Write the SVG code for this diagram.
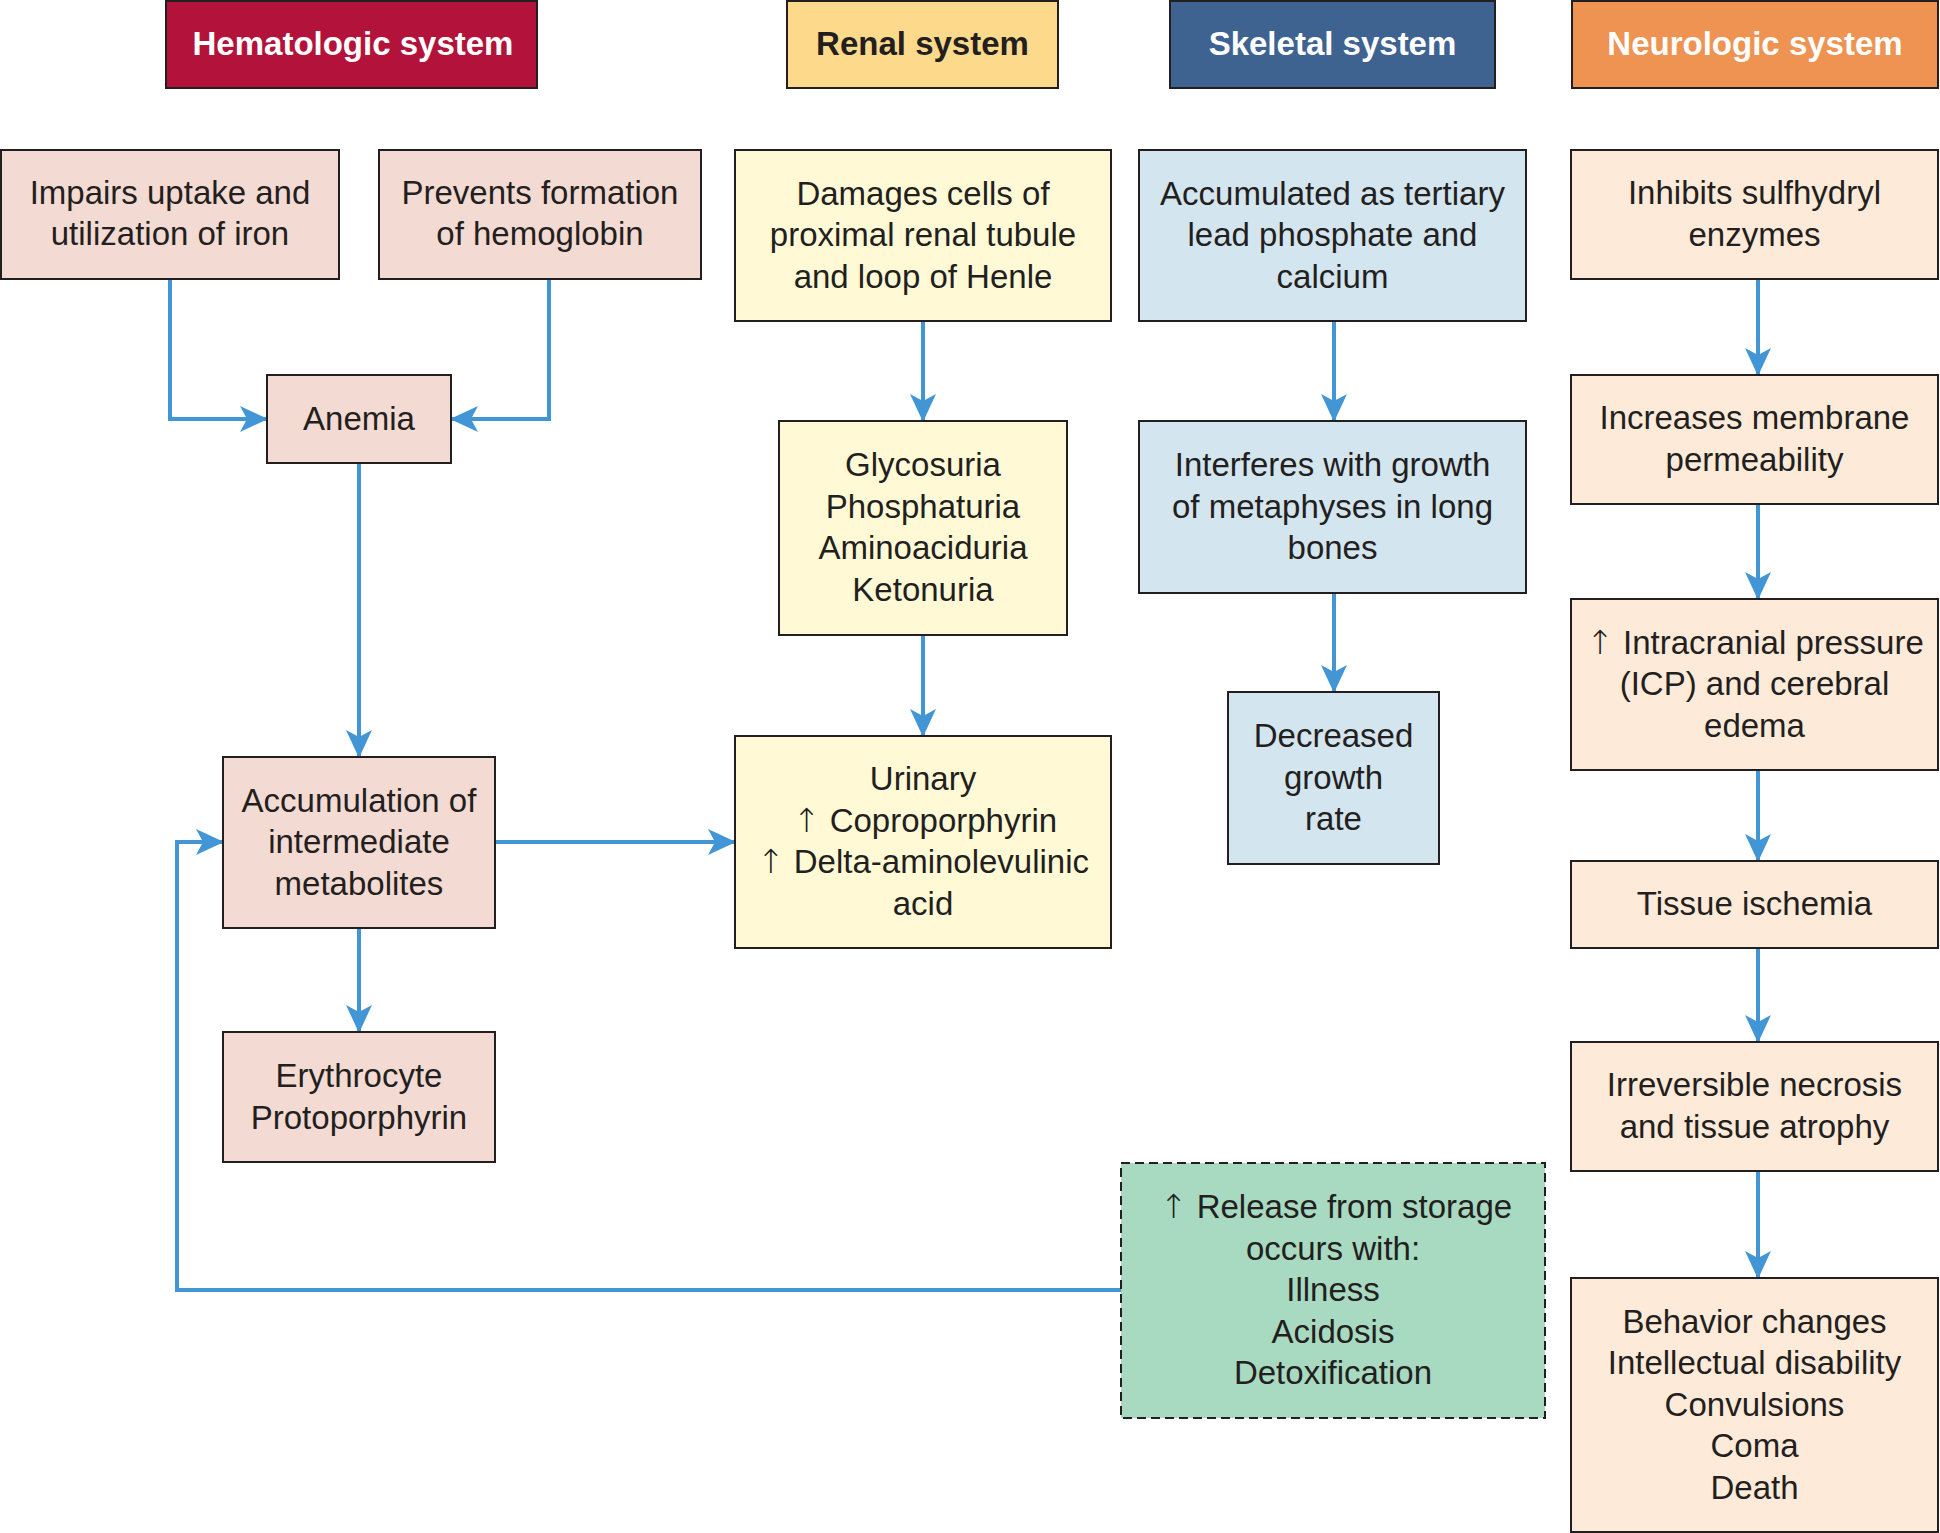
<svg xmlns="http://www.w3.org/2000/svg" width="1940" height="1533" viewBox="0 0 1940 1533">
<defs>
<style>
.hdr{stroke:#231F20;stroke-width:2}
.ht{font-family:"Liberation Sans",Arial,sans-serif;font-size:33px;font-weight:bold;text-anchor:middle}
.box{stroke:#231F20;stroke-width:2}
.hem{fill:#F3DAD2}
.ren{fill:#FFF9D6}
.skl{fill:#D3E5EE}
.neu{fill:#FDEAD8}
.grn{fill:#A8D9C1;stroke:#231F20;stroke-width:2;stroke-dasharray:9 5}
.t{font-family:"Liberation Sans",Arial,sans-serif;font-size:33px;fill:#231F20;text-anchor:middle}
.up{font-family:"DejaVu Sans",sans-serif;font-weight:200}
.c{fill:none;stroke:#4396D5;stroke-width:4;marker-end:url(#ah)}
</style>
<marker id="ah" markerUnits="userSpaceOnUse" viewBox="0 0 28 26" markerWidth="28" markerHeight="26" refX="27" refY="13" orient="auto">
<path d="M28,13 L0,0 L7,13 L0,26 Z" fill="#4396D5"/>
</marker>
</defs>
<rect width="1940" height="1533" fill="#FFFFFF"/>

<g id="connectors">
<path class="c" d="M170,279 V419 H267"/>
<path class="c" d="M549,279 V419 H451"/>
<path class="c" d="M359,463 V757"/>
<path class="c" d="M359,928 V1032"/>
<path class="c" d="M495,842 H735"/>
<path class="c" d="M923,321 V421"/>
<path class="c" d="M923,635 V736"/>
<path class="c" d="M1334,321 V421"/>
<path class="c" d="M1334,593 V692"/>
<path class="c" d="M1121,1290 H177 V842 H223"/>
<path class="c" d="M1758,279 V375"/>
<path class="c" d="M1758,504 V599"/>
<path class="c" d="M1758,770 V861"/>
<path class="c" d="M1758,948 V1042"/>
<path class="c" d="M1758,1171 V1278"/>
</g>

<g id="hdr-hematologic">
<rect class="hdr" x="166" y="1" width="371" height="87" fill="#B3123A"/>
<text class="ht" x="353" y="55" fill="#FFFFFF">Hematologic system</text>
</g>
<g id="hdr-renal">
<rect class="hdr" x="787" y="1" width="271" height="87" fill="#FDD98B"/>
<text class="ht" x="922.5" y="55" fill="#231F20">Renal system</text>
</g>
<g id="hdr-skeletal">
<rect class="hdr" x="1170" y="1" width="325" height="87" fill="#3E6391"/>
<text class="ht" x="1332.5" y="55" fill="#FFFFFF">Skeletal system</text>
</g>
<g id="hdr-neurologic">
<rect class="hdr" x="1572" y="1" width="366" height="87" fill="#EE9352"/>
<text class="ht" x="1755" y="55" fill="#FFFFFF">Neurologic system</text>
</g>

<g id="n-impairs">
<rect class="box hem" x="1" y="150" width="338" height="129"/>
<text class="t" x="170" y="204">Impairs uptake and</text>
<text class="t" x="170" y="245">utilization of iron</text>
</g>
<g id="n-prevents">
<rect class="box hem" x="379" y="150" width="322" height="129"/>
<text class="t" x="540" y="204">Prevents formation</text>
<text class="t" x="540" y="245">of hemoglobin</text>
</g>
<g id="n-anemia">
<rect class="box hem" x="267" y="375" width="184" height="88"/>
<text class="t" x="359" y="429.5">Anemia</text>
</g>
<g id="n-accumulation">
<rect class="box hem" x="223" y="757" width="272" height="171"/>
<text class="t" x="359" y="811.5">Accumulation of</text>
<text class="t" x="359" y="853">intermediate</text>
<text class="t" x="359" y="894.5">metabolites</text>
</g>
<g id="n-erythrocyte">
<rect class="box hem" x="223" y="1032" width="272" height="130"/>
<text class="t" x="359" y="1087">Erythrocyte</text>
<text class="t" x="359" y="1128.5">Protoporphyrin</text>
</g>

<g id="n-damages">
<rect class="box ren" x="735" y="150" width="376" height="171"/>
<text class="t" x="923" y="204.5">Damages cells of</text>
<text class="t" x="923" y="246">proximal renal tubule</text>
<text class="t" x="923" y="287.5">and loop of Henle</text>
</g>
<g id="n-glycosuria">
<rect class="box ren" x="779" y="421" width="288" height="214"/>
<text class="t" x="923" y="476">Glycosuria</text>
<text class="t" x="923" y="517.5">Phosphaturia</text>
<text class="t" x="923" y="559">Aminoaciduria</text>
<text class="t" x="923" y="600.5">Ketonuria</text>
</g>
<g id="n-urinary">
<rect class="box ren" x="735" y="736" width="376" height="212"/>
<text class="t" x="923" y="790">Urinary</text>
<text class="t" x="925" y="831.5"><tspan class="up">↑</tspan> Coproporphyrin</text>
<text class="t" x="923" y="873"><tspan class="up">↑</tspan> Delta-aminolevulinic</text>
<text class="t" x="923" y="914.5">acid</text>
</g>

<g id="n-accumulated">
<rect class="box skl" x="1139" y="150" width="387" height="171"/>
<text class="t" x="1332.5" y="204.5">Accumulated as tertiary</text>
<text class="t" x="1332.5" y="246">lead phosphate and</text>
<text class="t" x="1332.5" y="287.5">calcium</text>
</g>
<g id="n-interferes">
<rect class="box skl" x="1139" y="421" width="387" height="172"/>
<text class="t" x="1332.5" y="476">Interferes with growth</text>
<text class="t" x="1332.5" y="517.5">of metaphyses in long</text>
<text class="t" x="1332.5" y="559">bones</text>
</g>
<g id="n-decreased">
<rect class="box skl" x="1228" y="692" width="211" height="172"/>
<text class="t" x="1333.5" y="747">Decreased</text>
<text class="t" x="1333.5" y="788.5">growth</text>
<text class="t" x="1333.5" y="830">rate</text>
</g>
<g id="n-release">
<rect class="grn" x="1121" y="1163" width="424" height="255"/>
<text class="t" x="1336" y="1218"><tspan class="up">↑</tspan> Release from storage</text>
<text class="t" x="1333" y="1259.5">occurs with:</text>
<text class="t" x="1333" y="1301">Illness</text>
<text class="t" x="1333" y="1342.5">Acidosis</text>
<text class="t" x="1333" y="1384">Detoxification</text>
</g>

<g id="n-inhibits">
<rect class="box neu" x="1571" y="150" width="367" height="129"/>
<text class="t" x="1754.5" y="204">Inhibits sulfhydryl</text>
<text class="t" x="1754.5" y="245.5">enzymes</text>
</g>
<g id="n-increases">
<rect class="box neu" x="1571" y="375" width="367" height="129"/>
<text class="t" x="1754.5" y="429">Increases membrane</text>
<text class="t" x="1754.5" y="470.5">permeability</text>
</g>
<g id="n-icp">
<rect class="box neu" x="1571" y="599" width="367" height="171"/>
<text class="t" x="1755" y="653.5"><tspan class="up">↑</tspan> Intracranial pressure</text>
<text class="t" x="1754.5" y="695">(ICP) and cerebral</text>
<text class="t" x="1754.5" y="736.5">edema</text>
</g>
<g id="n-ischemia">
<rect class="box neu" x="1571" y="861" width="367" height="87"/>
<text class="t" x="1754.5" y="915">Tissue ischemia</text>
</g>
<g id="n-necrosis">
<rect class="box neu" x="1571" y="1042" width="367" height="129"/>
<text class="t" x="1754.5" y="1096">Irreversible necrosis</text>
<text class="t" x="1754.5" y="1137.5">and tissue atrophy</text>
</g>
<g id="n-behavior">
<rect class="box neu" x="1571" y="1278" width="367" height="254"/>
<text class="t" x="1754.5" y="1332.5">Behavior changes</text>
<text class="t" x="1754.5" y="1374">Intellectual disability</text>
<text class="t" x="1754.5" y="1415.5">Convulsions</text>
<text class="t" x="1754.5" y="1457">Coma</text>
<text class="t" x="1754.5" y="1498.5">Death</text>
</g>
</svg>
